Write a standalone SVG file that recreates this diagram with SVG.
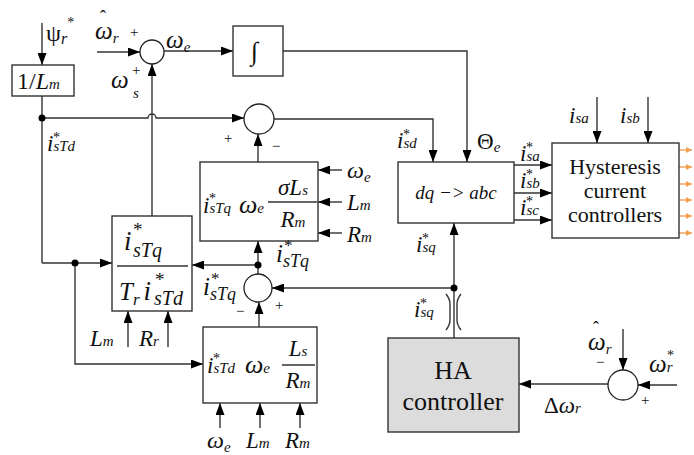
<svg xmlns="http://www.w3.org/2000/svg" width="694" height="455" viewBox="0 0 694 455">
<style>
.ln{fill:none;stroke:#333;stroke-width:1.4}
.ar{fill:none;stroke:#333;stroke-width:1.4;marker-end:url(#ah)}
.or{fill:none;stroke:#f0a050;stroke-width:1.4;marker-end:url(#ao)}
.bx{fill:#fff;stroke:#333;stroke-width:1.4}
.sm{fill:#fff;stroke:#222;stroke-width:1.3}
.dot{fill:#000}
text{font-family:"Liberation Serif","Times New Roman",serif;fill:#111}
.m{font-style:italic;font-size:23px}
.w{font-style:italic;font-size:25px}
.sb{font-size:15px}
.st{font-size:14px}
.sg{font-size:15px;font-style:normal}
</style>
<defs>
<marker id="ah" markerUnits="userSpaceOnUse" markerWidth="12" markerHeight="9" refX="12" refY="4.5" orient="auto"><path d="M0,0 L12,4.5 L0,9 z" fill="#000"/></marker>
<marker id="ao" markerUnits="userSpaceOnUse" markerWidth="6" markerHeight="6" refX="6" refY="3" orient="auto"><path d="M0,0 L6,3 L0,6 z" fill="#f0a050"/></marker>
</defs>

<g id="connectors">
<path class="ar" d="M42,23 V65"/>
<path class="ln" d="M42,96 V263"/>
<path class="ar" d="M42,263 H112"/>
<path class="ar" d="M42,118 H148 A4,4 0 0 1 156,118 H244"/>
<path class="ar" d="M97,52 H140"/>
<path class="ar" d="M164,51 H233"/>
<path class="ar" d="M152,216 V64"/>
<path class="ar" d="M283,51 H467 V162"/>
<path class="ar" d="M274,119 H433 V162"/>
<path class="ar" d="M258,162 V134"/>
<path class="ar" d="M342,170 H318"/>
<path class="ar" d="M342,202 H318"/>
<path class="ar" d="M342,233 H318"/>
<path class="ln" d="M258,274 V265"/>
<path class="ar" d="M258,265 V241"/>
<path class="ar" d="M258,265 H192"/>
<path class="ar" d="M454,288 H272"/>
<path class="ar" d="M454,338 V223"/>
<path class="ar" d="M259,327 V302"/>
<path class="ar" d="M220,428 V403"/>
<path class="ar" d="M260,428 V403"/>
<path class="ar" d="M300,428 V403"/>
<path class="ar" d="M75,263 V364 H203"/>
<path class="ar" d="M128,347 V311"/>
<path class="ar" d="M168,347 V311"/>
<path class="ar" d="M514,165 H552"/>
<path class="ar" d="M514,193 H552"/>
<path class="ar" d="M514,220 H552"/>
<path class="ar" d="M597,97 V143"/>
<path class="ar" d="M648,97 V143"/>
<path class="or" d="M679,150 H692"/>
<path class="or" d="M679,167 H692"/>
<path class="or" d="M679,184 H692"/>
<path class="or" d="M679,200 H692"/>
<path class="or" d="M679,216 H692"/>
<path class="or" d="M679,233 H692"/>
<path class="ar" d="M623,329 V370"/>
<path class="ar" d="M677,385 H638"/>
<path class="ar" d="M608,384 H519"/>
<path class="ln" d="M446,294 Q450,299 450,304 V320 Q450,325 446,330"/>
<path class="ln" d="M461,294 Q457,299 457,304 V320 Q457,325 461,330"/>
<circle class="dot" cx="42" cy="118" r="3.5"/>
<circle class="dot" cx="75" cy="263" r="3.5"/>
<circle class="dot" cx="258" cy="265" r="3.5"/>
<circle class="dot" cx="454" cy="288" r="3.5"/>
</g>

<g id="inv-lm">
<rect class="bx" x="12" y="65" width="62" height="31"/>
<text x="17" y="89" font-size="24">1/<tspan font-style="italic">L</tspan><tspan font-style="italic" font-size="15">m</tspan></text>
<text x="46" y="41" font-size="24">ψ<tspan font-style="italic" font-size="16" dy="3">r</tspan><tspan font-size="14" dy="-17">*</tspan></text>
</g>

<g id="sum-top">
<circle class="sm" cx="152" cy="52" r="12"/>
<text x="95" y="39" class="w">ω<tspan class="sb" dy="4">r</tspan></text>
<text x="100" y="23" font-size="18">ˆ</text>
<text x="130" y="37" class="sg">+</text>
<text x="166" y="48" class="w">ω<tspan class="sb" dy="4">e</tspan></text>
<text x="111" y="88" class="w">ω</text>
<text x="132" y="75" class="sg">+</text>
<text x="133" y="98" class="m sb">s</text>
</g>

<g id="integrator">
<rect class="bx" x="233" y="26" width="50" height="50"/>
<text x="251" y="60" font-size="26" font-style="italic">∫</text>
</g>

<g id="sum-d">
<circle class="sm" cx="259" cy="119" r="15"/>
<text x="224" y="143" class="sg">+</text>
<text x="272" y="151" class="sg">−</text>
<text x="397" y="148" class="m">i<tspan class="sb">sd</tspan></text>
<text x="403" y="139" class="st">*</text>
<text x="47" y="151" class="m">i<tspan class="sb">sTd</tspan></text>
<text x="53" y="142" class="st">*</text>
</g>

<g id="block-ratio">
<rect class="bx" x="112" y="216" width="80" height="95"/>
<text x="124" y="250" font-size="27" font-style="italic">i</text>
<text x="133" y="236" font-size="19">*</text>
<text x="133" y="257" font-size="20" font-style="italic">sTq</text>
<line class="ln" x1="117" y1="266" x2="188" y2="266"/>
<text x="119" y="300" font-size="25" font-style="italic">T<tspan font-size="17" dy="5">r</tspan><tspan font-size="27" dx="4" dy="-5">i</tspan></text>
<text x="155" y="286" font-size="19">*</text>
<text x="154" y="305" font-size="20" font-style="italic">sTd</text>
<text x="90" y="346" class="m">L<tspan class="sb">m</tspan></text>
<text x="139" y="346" class="m">R<tspan class="sb">r</tspan></text>
</g>

<g id="block-sigma">
<rect class="bx" x="200" y="162" width="118" height="79"/>
<text x="203" y="213" class="m">i<tspan class="sb">sTq</tspan></text>
<text x="209" y="203" class="st">*</text>
<text x="239" y="213" font-size="26" font-style="italic">ω<tspan class="sb">e</tspan></text>
<text x="293" y="195" class="m" text-anchor="middle">σL<tspan class="sb">s</tspan></text>
<line class="ln" x1="268" y1="202" x2="317" y2="202"/>
<text x="293" y="227" class="m" text-anchor="middle">R<tspan class="sb">m</tspan></text>
<text x="347" y="178" font-size="24" font-style="italic">ω<tspan class="sb" dy="4">e</tspan></text>
<text x="347" y="210" class="m">L<tspan class="sb">m</tspan></text>
<text x="347" y="242" class="m">R<tspan class="sb">m</tspan></text>
</g>

<g id="sum-q">
<circle class="sm" cx="258" cy="288" r="14"/>
<text x="275" y="310" class="sg">+</text>
<text x="236" y="316" class="sg">−</text>
<text x="276" y="262" font-size="25" font-style="italic">i</text>
<text x="284" y="251" font-size="17">*</text>
<text x="283" y="267" font-size="18" font-style="italic">sTq</text>
<text x="203" y="295" font-size="25" font-style="italic">i</text>
<text x="211" y="284" font-size="17">*</text>
<text x="210" y="300" font-size="18" font-style="italic">sTq</text>
</g>

<g id="block-ls">
<rect class="bx" x="203" y="327" width="114" height="76"/>
<text x="207" y="373" class="m">i<tspan class="sb">sTd</tspan></text>
<text x="213" y="363" class="st">*</text>
<text x="245" y="373" font-size="26" font-style="italic">ω<tspan class="sb">e</tspan></text>
<text x="298" y="356" class="m" text-anchor="middle">L<tspan class="sb">s</tspan></text>
<line class="ln" x1="282" y1="365" x2="315" y2="365"/>
<text x="298" y="388" class="m" text-anchor="middle">R<tspan class="sb">m</tspan></text>
<text x="207" y="448" font-size="24" font-style="italic">ω<tspan class="sb" dy="4">e</tspan></text>
<text x="246" y="448" class="m">L<tspan class="sb">m</tspan></text>
<text x="285" y="448" class="m">R<tspan class="sb">m</tspan></text>
</g>

<g id="dq-abc">
<rect class="bx" x="398" y="162" width="116" height="61"/>
<text x="456" y="199" font-size="19" font-style="italic" text-anchor="middle">dq −&gt; abc</text>
<text x="477" y="149" font-size="23">Θ<tspan font-style="italic" class="sb" dy="3">e</tspan></text>
<text x="416" y="252" class="m">i<tspan class="sb">sq</tspan></text>
<text x="422" y="243" class="st">*</text>
<text x="520" y="161" class="m">i<tspan class="sb">sa</tspan></text>
<text x="526" y="152" class="st">*</text>
<text x="520" y="188" class="m">i<tspan class="sb">sb</tspan></text>
<text x="526" y="179" class="st">*</text>
<text x="520" y="215" class="m">i<tspan class="sb">sc</tspan></text>
<text x="526" y="206" class="st">*</text>
</g>

<g id="hysteresis">
<rect class="bx" x="552" y="143" width="127" height="95"/>
<text x="615" y="174" font-size="22" text-anchor="middle">Hysteresis</text>
<text x="615" y="198" font-size="22" text-anchor="middle">current</text>
<text x="615" y="222" font-size="22" text-anchor="middle">controllers</text>
<text x="569" y="123" class="m">i<tspan class="sb">sa</tspan></text>
<text x="620" y="123" class="m">i<tspan class="sb">sb</tspan></text>
</g>

<g id="ha-controller">
<rect x="388" y="338" width="131" height="94" fill="#dcdcdc" stroke="#333" stroke-width="1.4"/>
<text x="453" y="379" font-size="26" text-anchor="middle">HA</text>
<text x="453" y="410" font-size="26" text-anchor="middle">controller</text>
<text x="414" y="317" class="m">i<tspan class="sb">sq</tspan></text>
<text x="420" y="308" class="st">*</text>
</g>

<g id="sum-speed">
<circle class="sm" cx="623" cy="385" r="15"/>
<text x="588" y="350" class="w">ω<tspan class="sb" dy="4">r</tspan></text>
<text x="593" y="334" font-size="18">ˆ</text>
<text x="596" y="367" class="sg">−</text>
<text x="641" y="405" class="sg">+</text>
<text x="649" y="372" class="w">ω<tspan class="sb">r</tspan></text>
<text x="667" y="360" class="st">*</text>
<text x="544" y="413" font-size="23">Δ<tspan font-style="italic">ω</tspan><tspan class="sb" font-style="italic">r</tspan></text>
</g>
</svg>
